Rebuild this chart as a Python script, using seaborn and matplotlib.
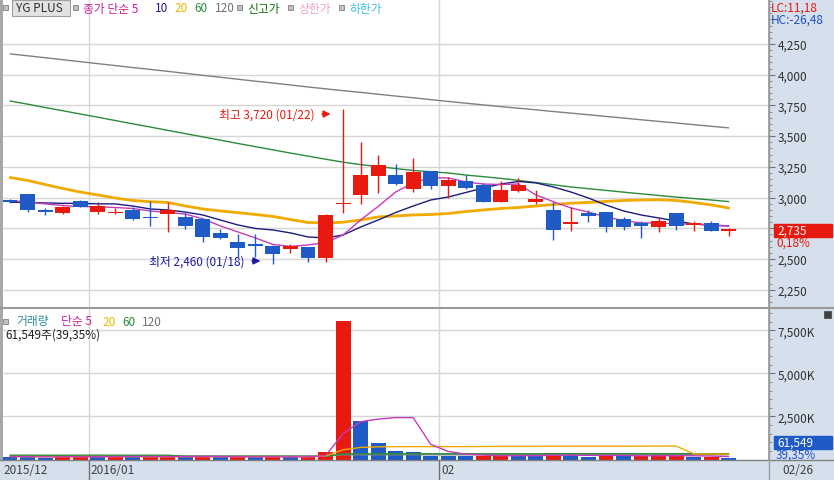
import matplotlib
matplotlib.use('Agg')
import numpy as np
import pandas as pd
import matplotlib.pyplot as plt
from matplotlib.patches import Rectangle
from matplotlib.lines import Line2D
from matplotlib.ticker import MultipleLocator, FixedLocator, FuncFormatter
from matplotlib.transforms import blended_transform_factory
import seaborn as sns

sns.set_theme(style='white')
plt.rcParams['font.family'] = ['Noto Sans CJK KR', 'DejaVu Sans']
plt.rcParams['axes.unicode_minus'] = False

# ---------------- datos ----------------
fechas = ['2015-12-23', '2015-12-24', '2015-12-28', '2015-12-29', '2015-12-30',
          '2016-01-04', '2016-01-05', '2016-01-06', '2016-01-07', '2016-01-08',
          '2016-01-11', '2016-01-12', '2016-01-13', '2016-01-14', '2016-01-15',
          '2016-01-18', '2016-01-19', '2016-01-20', '2016-01-21', '2016-01-22',
          '2016-01-25', '2016-01-26', '2016-01-27', '2016-01-28', '2016-01-29',
          '2016-02-01', '2016-02-02', '2016-02-03', '2016-02-04', '2016-02-05',
          '2016-02-11', '2016-02-12', '2016-02-15', '2016-02-16', '2016-02-17',
          '2016-02-18', '2016-02-19', '2016-02-22', '2016-02-23', '2016-02-24',
          '2016-02-25', '2016-02-26']

apertura = [2980, 3025, 2900, 2877, 2972, 2882, 2872, 2899, 2840, 2869,
            2839, 2826, 2714, 2641, 2625, 2606, 2585, 2598, 2506, 2945,
            3020, 3176, 3184, 3072, 3214, 3097, 3132, 3102, 2966, 3053,
            2966, 2899, 2788, 2874, 2882, 2826, 2793, 2763, 2874, 2774,
            2790, 2730]
maximo = [2990, 3030, 2915, 2934, 2983, 2961, 2918, 2926, 2975, 2961,
          2874, 2830, 2742, 2703, 2703, 2614, 2620, 2598, 2866, 3720,
          3455, 3349, 3271, 3322, 3215, 3165, 3184, 3116, 3132, 3157,
          3064, 2966, 2921, 2901, 2882, 2839, 2812, 2844, 2874, 2812,
          2807, 2750]
minimo = [2955, 2885, 2860, 2869, 2920, 2869, 2870, 2820, 2765, 2722,
          2744, 2636, 2665, 2519, 2519, 2460, 2549, 2478, 2475, 2875,
          2948, 3035, 3105, 3048, 3070, 2995, 3070, 2963, 2963, 3043,
          2948, 2657, 2728, 2804, 2722, 2739, 2673, 2722, 2739, 2728,
          2725, 2690]
cierre = [2965, 2895, 2880, 2923, 2923, 2934, 2885, 2828, 2832, 2896,
          2771, 2682, 2673, 2590, 2603, 2543, 2602, 2506, 2858, 2950,
          3184, 3265, 3113, 3206, 3097, 3143, 3075, 2966, 3064, 3102,
          2988, 2739, 2795, 2853, 2763, 2763, 2766, 2812, 2766, 2793,
          2730, 2735]

ma5 = [2975, 2964, 2948, 2935, 2927, 2925, 2919, 2911, 2891, 2878,
       2866, 2826, 2769, 2720, 2671, 2618, 2602, 2614, 2634, 2695,
       2817, 2927, 3045, 3119, 3163, 3159, 3127, 3110, 3106, 3110,
       3021, 2966, 2915, 2882, 2842, 2812, 2793, 2793, 2785, 2785,
       2773, 2769]
ma10 = [2962, 2960, 2956, 2953, 2952, 2949, 2948, 2931, 2907, 2899,
        2882, 2858, 2817, 2777, 2748, 2736, 2712, 2679, 2671, 2695,
        2760, 2817, 2878, 2931, 2980, 3004, 3041, 3078, 3110, 3131,
        3119, 3086, 3045, 2996, 2939, 2891, 2858, 2834, 2809, 2785,
        2777, 2769]
ma20 = [3163, 3139, 3106, 3074, 3045, 3021, 2996, 2976, 2966, 2960,
        2931, 2907, 2891, 2877, 2862, 2846, 2821, 2797, 2793, 2799,
        2817, 2842, 2850, 2858, 2862, 2870, 2886, 2899, 2911, 2919,
        2931, 2943, 2954, 2960, 2968, 2976, 2980, 2982, 2976, 2960,
        2940, 2915]
ma60 = [3786, 3760, 3733, 3707, 3680, 3654, 3627, 3600, 3574, 3547,
        3520, 3494, 3467, 3440, 3414, 3388, 3362, 3337, 3312, 3288,
        3268, 3252, 3236, 3220, 3210, 3200, 3183, 3170, 3156, 3140,
        3122, 3104, 3086, 3072, 3058, 3044, 3030, 3017, 3004, 2992,
        2980, 2967]
ma120 = [4169, 4154, 4138, 4122, 4106, 4090, 4074, 4058, 4043, 4027,
         4011, 3995, 3979, 3963, 3947, 3932, 3916, 3900, 3885, 3870,
         3856, 3841, 3826, 3812, 3797, 3782, 3768, 3754, 3740, 3727,
         3714, 3700, 3687, 3674, 3660, 3647, 3633, 3620, 3607, 3593,
         3580, 3567]

# volumen en miles de acciones
volumen = [160, 150, 80, 210, 220, 150, 170, 130, 180, 200,
           140, 190, 130, 160, 140, 180, 150, 160, 447, 8010,
           2210, 969, 505, 447, 215, 200, 190, 230, 250, 220,
           200, 360, 250, 170, 210, 190, 220, 235, 250, 140,
           156.41, 61.549]
vol_ma5 = [170, 165, 150, 160, 165, 165, 165, 175, 170, 165,
           165, 175, 170, 165, 155, 160, 155, 155, 215, 1500,
           2195, 2340, 2430, 2430, 880, 470, 310, 260, 215, 220,
           220, 250, 255, 240, 240, 235, 210, 215, 220, 215,
           200, 170]
vol_ma20 = [170, 168, 165, 165, 168, 170, 168, 166, 165, 166,
            165, 166, 165, 164, 163, 164, 163, 162, 200, 560,
            700, 735, 745, 748, 748, 748, 748, 755, 760, 762,
            762, 770, 772, 772, 774, 774, 776, 778, 780, 330,
            320, 310]
vol_ma60 = [250, 250, 248, 248, 250, 250, 249, 248, 250, 250,
            185, 185, 184, 184, 185, 185, 184, 184, 186, 330,
            330, 331, 331, 332, 332, 332, 333, 333, 334, 334,
            334, 336, 336, 336, 337, 337, 338, 338, 339, 339,
            339, 338]
vol_ma120 = [205, 205, 204, 204, 205, 205, 205, 204, 204, 204,
             204, 204, 203, 203, 203, 203, 203, 203, 205, 272,
             272, 273, 273, 273, 274, 274, 274, 274, 275, 275,
             275, 276, 276, 276, 276, 277, 277, 277, 278, 278,
             278, 277]

ticks_precio = [2250, 2500, 2750, 3000, 3250, 3500, 3750, 4000, 4250]
ticks_vol = [2500, 5000, 7500]

# ---------------- estilo ----------------
W, H = 834, 481
ROJO = '#e8190f'
AZUL = '#1f5bc6'
PANEL = '#d6e0ec'
GRID = '#d6d6d6'
BORDE = '#9a9a9a'
C5, C10, C20, C60, C120 = '#c43cb8', '#1c1c80', '#f0aa00', '#2a8c3c', '#808080'
FS = 8.5

df = pd.DataFrame({'fecha': pd.to_datetime(fechas), 'o': apertura, 'h': maximo,
                   'l': minimo, 'c': cierre, 'ma5': ma5, 'ma10': ma10, 'ma20': ma20,
                   'ma60': ma60, 'ma120': ma120, 'vol': volumen, 'v5': vol_ma5,
                   'v20': vol_ma20, 'v60': vol_ma60, 'v120': vol_ma120})
df['idx'] = np.arange(len(df))
df['color'] = np.where(df['c'] >= df['o'], ROJO, AZUL)
df['vcolor'] = np.where(df['vol'] >= df['vol'].shift(1).fillna(1e9), ROJO, AZUL)
# limites de mes
mes = df['fecha'].dt.month
limites = df['idx'][mes != mes.shift(1)].iloc[1:] - 0.5

fig = plt.figure(figsize=(W / 100, H / 100), dpi=100)


def caja(x0, y0, x1, y1):
    return [x0 / W, 1 - y1 / H, (x1 - x0) / W, (y1 - y0) / H]


def texto(x, y, s, **kw):
    kw.setdefault('fontsize', FS)
    fig.text(x / W, 1 - y / H, s, va='center', ha=kw.pop('ha', 'left'), **kw)


def rect(x0, y0, x1, y1, **kw):
    fig.add_artist(Rectangle((x0 / W, 1 - y1 / H), (x1 - x0) / W, (y1 - y0) / H,
                             transform=fig.transFigure, **kw))


def linea(x0, y0, x1, y1, **kw):
    fig.add_artist(Line2D([x0 / W, x1 / W], [1 - y0 / H, 1 - y1 / H],
                          transform=fig.transFigure, **kw))


# fondos
rect(769, 0, W, H, color=PANEL, zorder=-5)
rect(0, 461, 769, H, color=PANEL, zorder=-5)
rect(0, 0, 3, 461, color='#a8a8a8', zorder=-4)

XL = (-0.4, 43.3)

# ---------------- panel de precios ----------------
ax = fig.add_axes(caja(3, 0, 769, 308))
ax.set_xlim(*XL)
ax.set_ylim(2109, 4616)
ax.set_facecolor('white')
for s in ['left', 'top', 'bottom']:
    ax.spines[s].set_visible(False)
ax.spines['right'].set_color(BORDE)
ax.set_xticks([])
ax.yaxis.tick_right()
ax.yaxis.set_major_locator(FixedLocator(ticks_precio))
ax.yaxis.set_minor_locator(MultipleLocator(50))
ax.yaxis.set_major_formatter(FuncFormatter(lambda v, p: f'{v:,.0f}'))
ax.tick_params(axis='y', which='major', length=4, width=0.8, color='#707070',
               labelsize=FS, labelcolor='#303030', pad=2, right=True, direction='out')
ax.tick_params(axis='y', which='minor', length=2, width=0.6, color='#808080', right=True)
ax.grid(axis='y', which='major', color=GRID, lw=1)
ax.set_axisbelow(True)
for b in limites:
    ax.axvline(b, color=GRID, lw=1, zorder=0)

for col, c, lw in [('ma120', C120, 1), ('ma60', C60, 1), ('ma20', C20, 2),
                   ('ma10', C10, 1), ('ma5', C5, 1)]:
    sns.lineplot(data=df, x='idx', y=col, ax=ax, color=c, lw=lw, zorder=2)

ax.vlines(df['idx'], df['l'], df['h'], colors=df['color'], lw=1, zorder=3)
cuerpo = np.maximum((df['c'] - df['o']).abs(), 10)
ax.bar(df['idx'], cuerpo, bottom=np.minimum(df['o'], df['c']), width=0.85,
       color=df['color'], zorder=4, linewidth=0)
ax.set_xlabel('')
ax.set_ylabel('')

# maximo / minimo
i_hi = int(df['h'].idxmax())
i_lo = int(df['l'].idxmin())
hi, lo = df['h'][i_hi], df['l'][i_lo]
f_hi = df['fecha'][i_hi].strftime('%m/%d')
f_lo = df['fecha'][i_lo].strftime('%m/%d')
ax.text(i_hi - 1.6, hi - 40, f'최고 {hi:,} ({f_hi})', color=ROJO, fontsize=FS,
        ha='right', va='center')
ax.annotate('', xy=(i_hi - 0.55, hi - 40), xytext=(i_hi - 1.35, hi - 40),
            arrowprops=dict(arrowstyle='-|>', color=ROJO, lw=1.2, mutation_scale=10))
ax.text(i_lo - 1.6, lo + 24, f'최저 {lo:,} ({f_lo})', color='#1a1aa0', fontsize=FS,
        ha='right', va='center')
ax.annotate('', xy=(i_lo - 0.55, lo + 24), xytext=(i_lo - 1.35, lo + 24),
            arrowprops=dict(arrowstyle='-|>', color='#1a1aa0', lw=1.2, mutation_scale=10))

# etiqueta del ultimo precio
ultimo = df['c'].iloc[-1]
cambio = (ultimo / df['c'].iloc[-2] - 1) * 100
tr = blended_transform_factory(fig.transFigure, ax.transData)
ax.add_patch(Rectangle((774 / W, ultimo - 53), 58 / W, 106, transform=tr,
                       color=ROJO, clip_on=False, zorder=5))
ax.text(777 / W, ultimo, f'{ultimo:,}', transform=tr, color='white', fontsize=FS,
        va='center', ha='left', zorder=6)
ax.text(776 / W, ultimo - 95, f'{cambio:.2f}%'.replace('.', ','), transform=tr,
        color=ROJO, fontsize=FS, va='center', ha='left')

# ---------------- panel de volumen ----------------
axv = fig.add_axes(caja(3, 310, 769, 460.5))
axv.set_xlim(*XL)
axv.set_ylim(0, 8730)
axv.set_facecolor('white')
for s in ['left', 'top', 'bottom']:
    axv.spines[s].set_visible(False)
axv.spines['right'].set_color(BORDE)
axv.set_xticks([])
axv.yaxis.tick_right()
axv.yaxis.set_major_locator(FixedLocator(ticks_vol))
axv.yaxis.set_minor_locator(MultipleLocator(500))
axv.yaxis.set_major_formatter(FuncFormatter(lambda v, p: f'{v:,.0f}K'))
axv.tick_params(axis='y', which='major', length=4, width=0.8, color='#707070',
                labelsize=FS, labelcolor='#303030', pad=2, right=True, direction='out')
axv.tick_params(axis='y', which='minor', length=2, width=0.6, color='#808080', right=True)
axv.grid(axis='y', which='major', color=GRID, lw=1)
axv.set_axisbelow(True)
for b in limites:
    axv.axvline(b, color=GRID, lw=1, zorder=0)
axv.bar(df['idx'], df['vol'], width=0.85, color=df['vcolor'], linewidth=0, zorder=2)
for col, c in [('v120', C120), ('v60', C60), ('v20', C20), ('v5', C5)]:
    sns.lineplot(data=df, x='idx', y=col, ax=axv, color=c, lw=1, zorder=3)
axv.set_xlabel('')
axv.set_ylabel('')

ult_vol = df['vol'].iloc[-1]
pct_vol = ult_vol / df['vol'].iloc[-2] * 100
trv = blended_transform_factory(fig.transFigure, axv.transData)
axv.add_patch(Rectangle((774 / W, 620), 58 / W, 730, transform=trv,
                        color='#1f5bc6', clip_on=False, zorder=5))
axv.text(777 / W, 985, f'{ult_vol * 1000:,.0f}', transform=trv, color='white',
         fontsize=FS, va='center', ha='left', zorder=6)
axv.text(776 / W, 310, f'{pct_vol:.2f}%'.replace('.', ','), transform=trv,
         color='#2050d0', fontsize=FS, va='center', ha='left')

# ---------------- eje de fechas ----------------
axd = fig.add_axes(caja(3, 461, 769, H))
axd.set_xlim(*XL)
axd.set_ylim(0, 1)
axd.axis('off')
axd.text(XL[0] + 0.05, 0.5, df['fecha'][0].strftime('%Y/%m'), fontsize=FS,
         color='#404040', va='center')
for b in limites:
    axd.axvline(b, color='#707070', lw=1)
    f = df['fecha'][int(b + 0.5)]
    lab = f.strftime('%Y/%m') if f.year != df['fecha'][int(b - 0.5)].year else f.strftime('%m')
    axd.text(b + 0.1, 0.5, lab, fontsize=FS, color='#404040', va='center')
texto(782, 471, df['fecha'].iloc[-1].strftime('%m/%d'), color='#404040')

# lineas de separacion
linea(0, 308.5, W, 308.5, color=BORDE, lw=1.5)
linea(0, 461, W, 461, color='#808080', lw=1)
linea(769, 0, 769, H, color=BORDE, lw=1)

# ---------------- leyendas ----------------
for x in [3, 73, 237, 288, 339]:
    rect(x, 6, x + 5, 11, facecolor='#c0c0c0', edgecolor='#808080', lw=0.6)
rect(12, 1, 70, 17, facecolor='#e2e2e2', edgecolor='#a0a0a0', lw=0.8)
texto(16, 9, 'YG PLUS', color='#303030')
texto(83, 9, '종가 단순 5', color='#c8209c')
texto(155, 9, '10', color=C10)
texto(174, 9, '20', color='#e8b800')
texto(194, 9, '60', color=C60)
texto(215, 9, '120', color='#707070')
texto(247, 9, '신고가', color='#107010')
texto(298, 9, '상한가', color='#f0a0c8')
texto(349, 9, '하한가', color='#40c0e0')
texto(771, 8, 'LC:11,18', color=ROJO)
texto(771, 20, 'HC:-26,48', color='#1f50c0')

rect(3, 320, 8, 325, facecolor='#c0c0c0', edgecolor='#808080', lw=0.6)
texto(16, 322, '거래량', color='#2a8a9a')
texto(61, 322, '단순 5', color='#c8209c')
texto(102, 322, '20', color='#e8b800')
texto(122, 322, '60', color=C60)
texto(142, 322, '120', color='#707070')
texto(5, 335, f'{ult_vol * 1000:,.0f}주({pct_vol:.2f}%)'.replace('.', ','), color='#202020')
rect(824, 312, 831, 319, facecolor='#404040', edgecolor='#404040', lw=0.5)

fig.savefig('out.png', dpi=100)
